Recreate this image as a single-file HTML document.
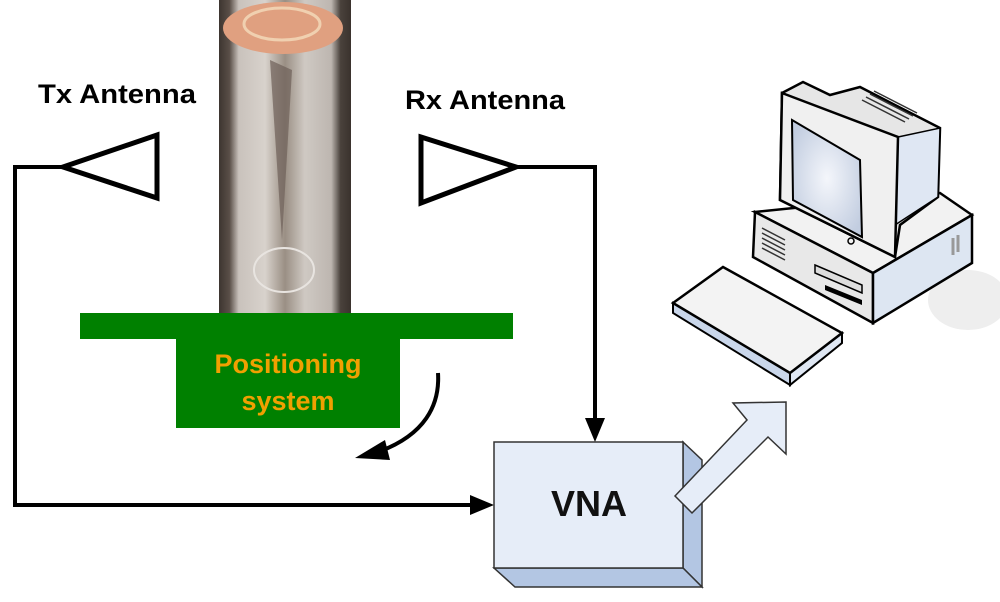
<!DOCTYPE html>
<html><head><meta charset="utf-8"><style>
html,body{margin:0;padding:0;background:#fff;}
svg{display:block;}
text{font-family:"Liberation Sans",Arial,sans-serif;font-weight:bold;}
</style></head><body>
<svg width="1000" height="602" viewBox="0 0 1000 602" xmlns="http://www.w3.org/2000/svg">
<defs>
<linearGradient id="log" x1="0" x2="1" y1="0" y2="0">
<stop offset="0" stop-color="#3d3530"/>
<stop offset="0.08" stop-color="#5a4f48"/>
<stop offset="0.15" stop-color="#c9c2bc"/>
<stop offset="0.35" stop-color="#d8d2cc"/>
<stop offset="0.5" stop-color="#9a8f84"/>
<stop offset="0.65" stop-color="#cfc9c3"/>
<stop offset="0.85" stop-color="#bdb6b0"/>
<stop offset="0.92" stop-color="#4a423c"/>
<stop offset="1" stop-color="#3a322d"/>
</linearGradient>
<radialGradient id="scr" cx="0.5" cy="0.5" r="0.6">
<stop offset="0" stop-color="#f4f6fb"/><stop offset="1" stop-color="#c2cde0"/>
</radialGradient>
</defs>

<rect x="219" y="0" width="132" height="313" fill="url(#log)"/>
<ellipse cx="283" cy="28" rx="60" ry="26" fill="#e0a080"/>
<ellipse cx="282" cy="24" rx="38" ry="16" fill="none" stroke="#f0d0b0" stroke-width="3"/>
<path d="M270 60 L282 240 L292 70 Z" fill="#6e6058" opacity="0.7"/>
<ellipse cx="284" cy="270" rx="30" ry="22" fill="none" stroke="#e8e4e0" stroke-width="2"/>

<rect x="80" y="313" width="433" height="26" fill="#008000"/>
<rect x="176" y="339" width="224" height="89" fill="#008000"/>
<text x="288" y="373" font-size="27" fill="#f0a000" text-anchor="middle">Positioning</text>
<text x="288" y="410" font-size="27" fill="#f0a000" text-anchor="middle">system</text>

<path d="M438 373 C440 405 425 435 378 452" fill="none" stroke="#000" stroke-width="4"/>
<polygon points="355,458 385,440 390,460" fill="#000"/>

<text x="38" y="103" font-size="27" fill="#000" textLength="158" lengthAdjust="spacingAndGlyphs">Tx Antenna</text>
<text x="405" y="109" font-size="27" fill="#000" textLength="160" lengthAdjust="spacingAndGlyphs">Rx Antenna</text>

<polygon points="63,167 157,135 157,198" fill="#fff" stroke="#000" stroke-width="5"/>
<polyline points="63,167 15,167 15,505 480,505" fill="none" stroke="#000" stroke-width="4"/>
<polygon points="494,505 470,495 470,515" fill="#000"/>

<polygon points="421,137 516,167 421,203" fill="#fff" stroke="#000" stroke-width="5"/>
<polyline points="516,167 595,167 595,425" fill="none" stroke="#000" stroke-width="4"/>
<polygon points="595,442 585,418 605,418" fill="#000"/>

<polygon points="683,442 702,460 702,587 683,568" fill="#b3c6e3" stroke="#333" stroke-width="1.5"/>
<polygon points="494,568 683,568 702,587 515,587" fill="#b3c6e3" stroke="#333" stroke-width="1.5"/>
<rect x="494" y="442" width="189" height="126" fill="#e6edf8" stroke="#333" stroke-width="1.5"/>
<text x="589" y="516" font-size="36" fill="#111" text-anchor="middle">VNA</text>
<polygon points="675,496 747,420 733,403 786,402 786,454 768,437 692,513" fill="#e6edf8" stroke="#333" stroke-width="1.5"/>

<ellipse cx="968" cy="300" rx="40" ry="30" fill="#eeeeee"/>
<polygon points="755,212 940,193 972,215 873,273" fill="#f2f2f2" stroke="#000" stroke-width="2.5"/>
<polygon points="755,212 873,273 873,323 753,257" fill="#e8e8e8" stroke="#000" stroke-width="2.5"/>
<polygon points="873,273 972,215 972,263 873,323" fill="#dde6f2" stroke="#000" stroke-width="2.5"/>
<g stroke="#333" stroke-width="1.5">
<line x1="762" y1="228" x2="785" y2="240"/><line x1="762" y1="233" x2="785" y2="245"/><line x1="762" y1="238" x2="785" y2="250"/><line x1="762" y1="243" x2="785" y2="255"/><line x1="762" y1="248" x2="785" y2="260"/>
</g>
<polygon points="815,265 862,285 862,293 815,273" fill="#ddd" stroke="#000" stroke-width="1.5"/>
<polygon points="825,285 862,300 862,305 825,290" fill="#000"/>
<line x1="953" y1="238" x2="953" y2="255" stroke="#999" stroke-width="3"/>
<line x1="958" y1="235" x2="958" y2="252" stroke="#999" stroke-width="3"/>
<polygon points="782,93 803,82 830,95 860,87 940,128 938,197 900,225 895,257 780,200" fill="#e6e6e6" stroke="#000" stroke-width="2.5"/>
<polygon points="898,137 940,128 938,197 895,225" fill="#dfe7f3" stroke="#000" stroke-width="1.5"/>
<polygon points="782,93 898,137 895,257 780,200" fill="#f0f0f0" stroke="#000" stroke-width="2.5"/>
<polygon points="792,120 860,160 862,237 793,200" fill="url(#scr)" stroke="#000" stroke-width="2"/>
<circle cx="851" cy="241" r="3" fill="none" stroke="#000" stroke-width="1.5"/>
<g stroke="#333" stroke-width="1.5">
<line x1="862" y1="100" x2="905" y2="122"/><line x1="866" y1="97" x2="909" y2="119"/><line x1="870" y1="94" x2="913" y2="116"/><line x1="874" y1="91" x2="917" y2="113"/>
</g>
<polygon points="673,303 790,373 790,385 673,313" fill="#c9d6ea" stroke="#000" stroke-width="2"/>
<polygon points="790,373 842,333 842,343 790,385" fill="#dfe7f3" stroke="#000" stroke-width="2"/>
<polygon points="673,303 723,267 842,333 790,373" fill="#f3f3f3" stroke="#000" stroke-width="2.5"/>
</svg>
</body></html>
